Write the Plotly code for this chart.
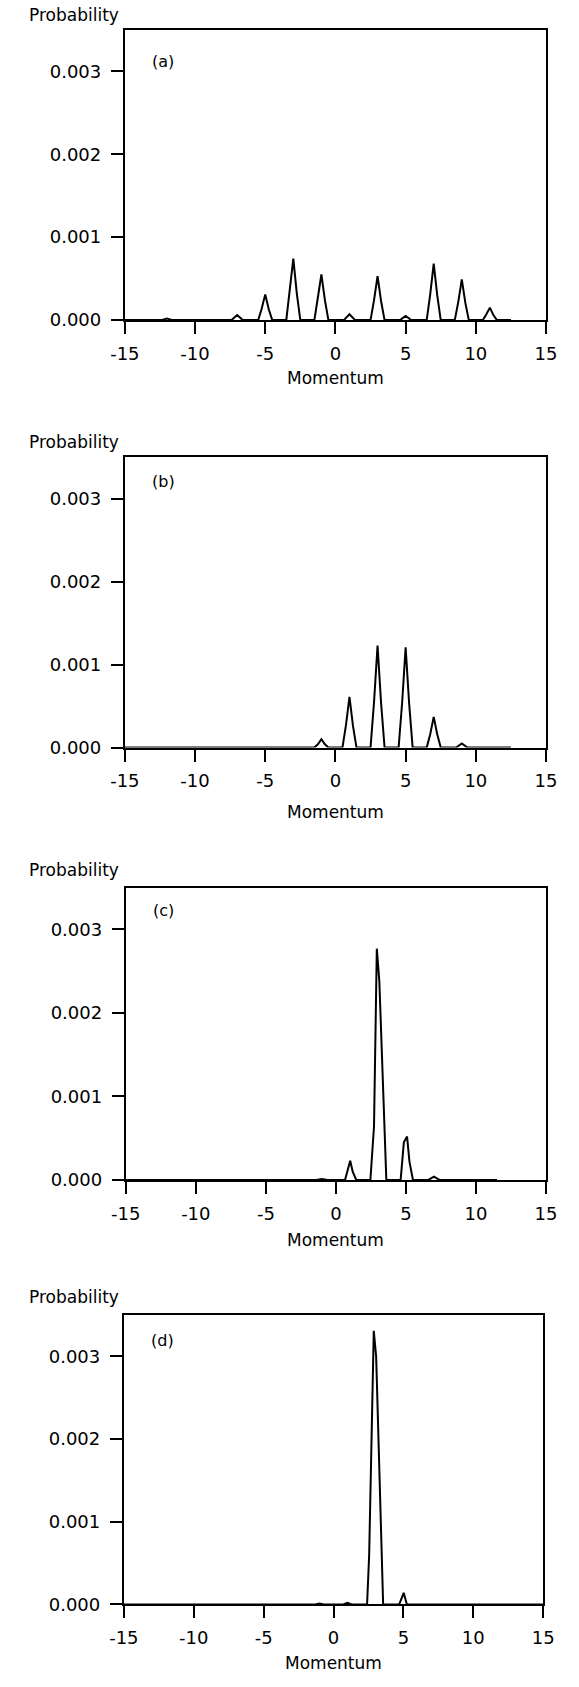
import plotly.graph_objects as go

# ---- data ----
panel_labels = ["(a)", "(b)", "(c)", "(d)"]
x_ticks = [-15, -10, -5, 0, 5, 10, 15]
y_ticks = [0.0, 0.001, 0.002, 0.003]
y_tick_text = ["0.000", "0.001", "0.002", "0.003"]

xa = [-15, -12.4, -12, -11.6, -7.4, -7, -6.6, -5.5, -5.25, -5, -4.75, -4.5,
      -3.5, -3.25, -3, -2.75, -2.5, -1.5, -1.25, -1, -0.75, -0.5, 0.6, 1, 1.4,
      2.5, 2.75, 3, 3.25, 3.5, 4.6, 5, 5.4, 6.5, 6.75, 7, 7.25, 7.5,
      8.5, 8.75, 9, 9.25, 9.5, 10.5, 10.75, 11, 11.25, 11.5, 12.5]
ya = [0, 0, 0.00002, 0, 0, 0.00006, 0, 0, 0.00014, 0.00031, 0.00013, 0,
      0, 0.00034, 0.00074, 0.00032, 0, 0, 0.00025, 0.00055, 0.00024, 0, 0, 0.00007, 0,
      0, 0.00024, 0.00053, 0.00023, 0, 0, 0.00005, 0, 0, 0.00031, 0.00068, 0.0003, 0,
      0, 0.00022, 0.00049, 0.00021, 0, 0, 0.00007, 0.00015, 0.00006, 0, 0]

xb = [-15, -1.5, -1.25, -1, -0.75, -0.5, 0.5, 0.75, 1, 1.25, 1.5,
      2.5, 2.75, 3, 3.25, 3.5, 4.5, 4.75, 5, 5.25, 5.5,
      6.5, 6.75, 7, 7.25, 7.5, 8.6, 9, 9.4, 12.5]
yb = [0, 0, 0.00004, 0.0001, 0.00004, 0, 0, 0.00027, 0.00061, 0.00026, 0,
      0, 0.00055, 0.00123, 0.00054, 0, 0, 0.00054, 0.00121, 0.00053, 0,
      0, 0.00016, 0.00037, 0.00016, 0, 0, 0.00005, 0, 0]

xc = [-15, -1.4, -1, -0.6, 0.65, 0.85, 1.02, 1.2, 1.45,
      2.46, 2.72, 2.92, 3.1, 3.6, 4.62, 4.85, 5.08, 5.25, 5.5,
      6.6, 7, 7.4, 11.5]
yc = [0, 0, 0.00001, 0, 0, 0.00012, 0.00023, 0.0001, 0,
      0, 0.00064, 0.00277, 0.00238, 0, 0, 0.00045, 0.00052, 0.00022, 0,
      0, 0.00004, 0, 0]

xd = [-15, -1.3, -1, -0.7, 0.7, 1, 1.3, 2.4, 2.55, 2.88, 3.05, 3.55,
      4.7, 5.02, 5.25, 15]
yd = [0, 0, 0.00001, 0, 0, 0.00002, 0, 0, 0.0006, 0.00331, 0.003, 0,
      0, 0.00014, 0, 0]

series = [(xa, ya), (xb, yb), (xc, yc), (xd, yd)]

# ---- layout geometry (pixels) ----
W, H = 579, 1687
boxes = [  # left, right, top, bottom
    (115, 556, 30, 322),
    (115, 556, 460, 752),
    (116, 556, 893, 1187),
    (114, 553, 1323, 1614),
]
prob_y = [15, 445, 875, 1305]
mom_y = [380, 817, 1247, 1673]
lab_off = [32, 24, 23, 25]

FONT = "DejaVu Sans, sans-serif"

fig = go.Figure()
layout = dict(
    width=W, height=H, margin=dict(l=0, r=0, t=0, b=0),
    paper_bgcolor="white", plot_bgcolor="white", showlegend=False,
    font=dict(family=FONT, size=17, color="black"),
)
annotations = []
for i, ((x, y), (l, r, t, b)) in enumerate(zip(series, boxes)):
    n = "" if i == 0 else str(i + 1)
    fig.add_trace(go.Scatter(x=x, y=y, mode="lines",
                             line=dict(color="black", width=2),
                             xaxis="x" + n, yaxis="y" + n,
                             hoverinfo="skip"))
    layout["xaxis" + n] = dict(
        domain=[l / W, r / W], range=[-15, 15], anchor="y" + n,
        tickvals=x_ticks, ticktext=[str(v) for v in x_ticks],
        ticks="outside", ticklen=12, tickwidth=2, tickcolor="black",
        showline=True, linecolor="black", linewidth=2, mirror=True,
        showgrid=False, zeroline=False, ticklabelstandoff=4,
        tickfont=dict(size=18),
    )
    layout["yaxis" + n] = dict(
        domain=[1 - b / H, 1 - t / H], range=[0, 0.0035], anchor="x" + n,
        tickvals=y_ticks, ticktext=y_tick_text,
        ticks="outside", ticklen=12, tickwidth=2, tickcolor="black",
        showline=True, linecolor="black", linewidth=2, mirror=True,
        showgrid=False, zeroline=False, ticklabelstandoff=6,
        tickfont=dict(size=18),
    )
    annotations.append(dict(text="Probability", xref="paper", yref="paper",
                            x=111 / W, y=1 - prob_y[i] / H, xanchor="right",
                            yanchor="middle", showarrow=False,
                            font=dict(size=17)))
    annotations.append(dict(text="Momentum", xref="paper", yref="paper",
                            x=(l + r) / 2 / W, y=1 - mom_y[i] / H,
                            xanchor="center", yanchor="middle",
                            showarrow=False, font=dict(size=17)))
    annotations.append(dict(text=panel_labels[i], xref="paper", yref="paper",
                            x=(l + 40) / W, y=1 - (t + lab_off[i]) / H,
                            xanchor="center", yanchor="middle",
                            showarrow=False, font=dict(size=16)))
layout["annotations"] = annotations
fig.update_layout(**layout)
fig.write_html("out.html")
